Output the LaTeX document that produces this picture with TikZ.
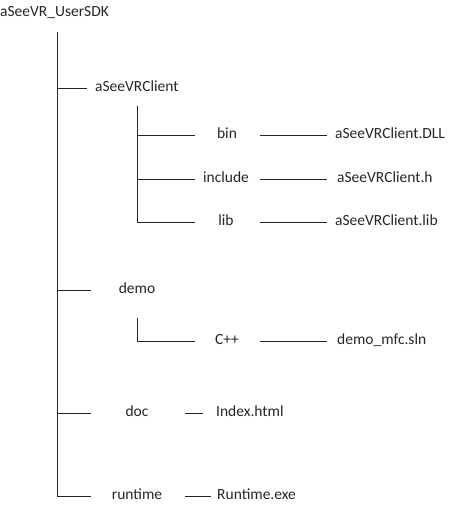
\documentclass[tikz,border=0pt]{standalone}
\usepackage{fontspec}
\setmainfont{Carlito}
\begin{document}
\begin{tikzpicture}[x=1pt,y=-1pt,
  lbl/.style={inner sep=0pt,font=\fontsize{15.5}{18}\selectfont,text height=0.72em,text depth=0.08em,text=black!85},
  conn/.style={draw=black!85,line width=0.9pt}]
\useasboundingbox (0,0) rectangle (450,507);
% texts
\node[lbl,anchor=west] (root) at (0,13) {aSeeVR\_UserSDK};
\node[lbl,anchor=west] (client) at (95,88) {aSeeVRClient};
\node[lbl] (bin) at (227,135) {bin};
\node[lbl] (include) at (226,179) {include};
\node[lbl] (lib) at (226,222) {lib};
\node[lbl,anchor=west] (dll) at (335,135) {aSeeVRClient.DLL};
\node[lbl,anchor=west] (hdr) at (337,179) {aSeeVRClient.h};
\node[lbl,anchor=west] (libf) at (335,222) {aSeeVRClient.lib};
\node[lbl] (demo) at (137,290) {demo};
\node[lbl] (cpp) at (227,341) {C++};
\node[lbl,anchor=west] (sln) at (337,341) {demo\_mfc.sln};
\node[lbl] (doc) at (137,413) {doc};
\node[lbl,anchor=west] (index) at (216,413) {Index.html};
\node[lbl] (runtime) at (137,496) {runtime};
\node[lbl,anchor=west] (rexe) at (217,496) {Runtime.exe};
% trunk coordinates
\coordinate (t0) at (57,32);
\coordinate (t1) at (57,88);
\coordinate (t2) at (57,290);
\coordinate (t3) at (57,413);
\coordinate (t4) at (57,496);
\coordinate (e1) at (87,88);
\coordinate (e2) at (91,290);
\coordinate (e3) at (91,413);
\coordinate (e4) at (91,496);
% sub trunk of aSeeVRClient
\coordinate (s0) at (137,106);
\coordinate (s1) at (137,135);
\coordinate (s2) at (137,179);
\coordinate (s3) at (137,222);
\coordinate (b1) at (195,135);
\coordinate (b2) at (195,179);
\coordinate (b3) at (195,222);
% right links
\coordinate (r1a) at (260,135); \coordinate (r1b) at (327,135);
\coordinate (r2a) at (260,179); \coordinate (r2b) at (327,179);
\coordinate (r3a) at (260,222); \coordinate (r3b) at (327,222);
\coordinate (r4a) at (260,341); \coordinate (r4b) at (327,341);
% demo sub
\coordinate (d0) at (137,318);
\coordinate (d1) at (137,341);
\coordinate (d2) at (195,341);
% doc / runtime links
\coordinate (x1a) at (185,413); \coordinate (x1b) at (203,413);
\coordinate (x2a) at (185,496); \coordinate (x2b) at (211,496);
% drawing
\draw[conn] (t0) -- (t4) -- (e4);
\draw[conn] (t1) -- (e1);
\draw[conn] (t2) -- (e2);
\draw[conn] (t3) -- (e3);
\draw[conn] (s0) -- (s3) -- (b3);
\draw[conn] (s1) -- (b1);
\draw[conn] (s2) -- (b2);
\draw[conn] (r1a) -- (r1b);
\draw[conn] (r2a) -- (r2b);
\draw[conn] (r3a) -- (r3b);
\draw[conn] (r4a) -- (r4b);
\draw[conn] (d0) -- (d1) -- (d2);
\draw[conn] (x1a) -- (x1b);
\draw[conn] (x2a) -- (x2b);
\end{tikzpicture}
\end{document}
